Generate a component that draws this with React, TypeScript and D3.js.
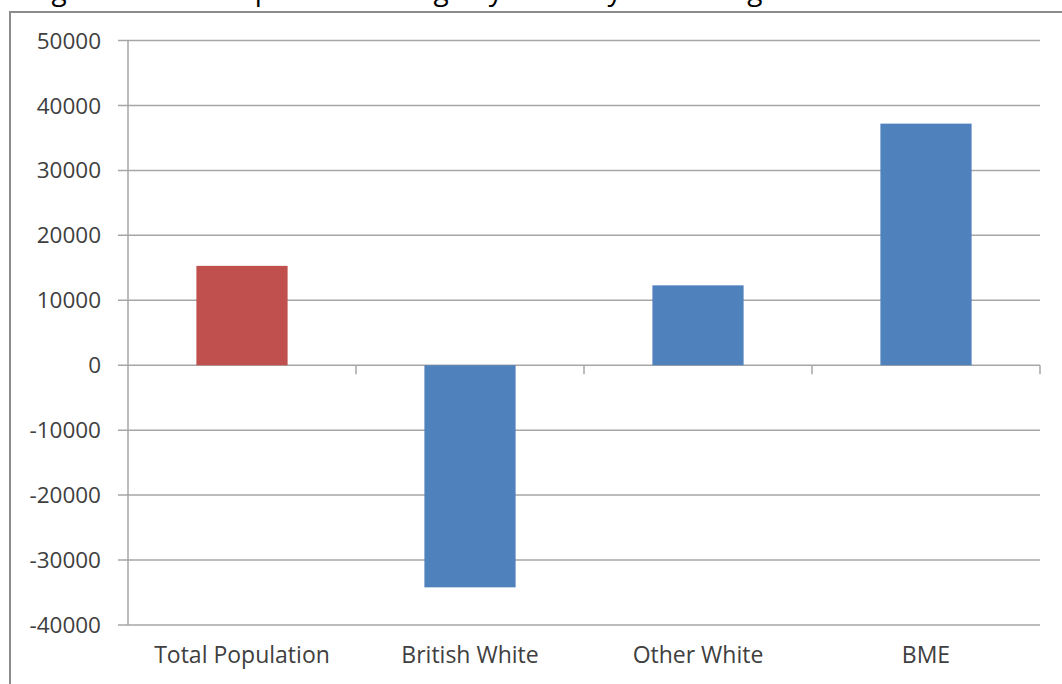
import React from "react";
import * as d3 from "d3";

const categories = ["Total Population", "British White", "Other White", "BME"];
const values = [15300, -34200, 12300, 37200];
const barColors = ["#C0504D", "#4F81BD", "#4F81BD", "#4F81BD"];
const yTicks = [50000, 40000, 30000, 20000, 10000, 0, -10000, -20000, -30000, -40000];
const title = "Figure 3: Total Population change by ethnicity in Birmingham 2001-2011";

const W = 1062;
const H = 684;
const plotLeft = 128;
const plotRight = 1040;
const plotTop = 40.5;
const plotBottom = 625;

export default function App() {
  const x = d3
    .scaleBand<string>()
    .domain(categories)
    .range([plotLeft, plotRight])
    .paddingInner(0.6)
    .paddingOuter(0.3);
  const y = d3.scaleLinear().domain([-40000, 50000]).range([plotBottom, plotTop]);
  const step = x.step();
  const font = "'Open Sans', Lato, sans-serif";
  const gridColor = "#A6A6A6";

  const boundaries = categories.map((_, i) => plotLeft + step * (i + 1));

  return (
    <svg
      width={W}
      height={H}
      style={{ position: "absolute", left: 0, top: 0, display: "block", background: "#fff" }}
    >
      <text x={30} y={0} fontFamily={font} fontSize={28} fill="#000">
        {title}
      </text>
      {/* outer frame */}
      <path d={`M10,${H + 5} V12 H${W + 5}`} fill="none" stroke="#8C8C8C" strokeWidth={2} />

      {/* gridlines */}
      {yTicks.map((t) => (
        <line
          key={t}
          x1={118}
          x2={plotRight}
          y1={y(t)}
          y2={y(t)}
          stroke={gridColor}
          strokeWidth={1.5}
        />
      ))}
      {/* y axis */}
      <line x1={plotLeft} x2={plotLeft} y1={plotTop} y2={plotBottom} stroke={gridColor} strokeWidth={1.5} />
      {/* category ticks */}
      {boundaries.map((bx, i) => (
        <line key={i} x1={bx} x2={bx} y1={y(0)} y2={y(0) + 9} stroke={gridColor} strokeWidth={1.5} />
      ))}

      {/* bars */}
      {categories.map((c, i) => {
        const v = values[i];
        const y0 = y(0);
        const yv = y(v);
        return (
          <rect
            key={c}
            x={x(c)}
            y={Math.min(y0, yv)}
            width={x.bandwidth()}
            height={Math.abs(yv - y0)}
            fill={barColors[i]}
          />
        );
      })}

      {/* y tick labels */}
      {yTicks.map((t) => (
        <text
          key={t}
          x={101}
          y={y(t)}
          dy="0.36em"
          textAnchor="end"
          fontFamily={font}
          fontSize={22.5}
          fill="#404040"
        >
          {t}
        </text>
      ))}

      {/* category labels */}
      {categories.map((c) => (
        <text
          key={c}
          x={(x(c) as number) + x.bandwidth() / 2}
          y={663}
          textAnchor="middle"
          fontFamily={font}
          fontSize={23}
          fill="#404040"
        >
          {c}
        </text>
      ))}
    </svg>
  );
}
